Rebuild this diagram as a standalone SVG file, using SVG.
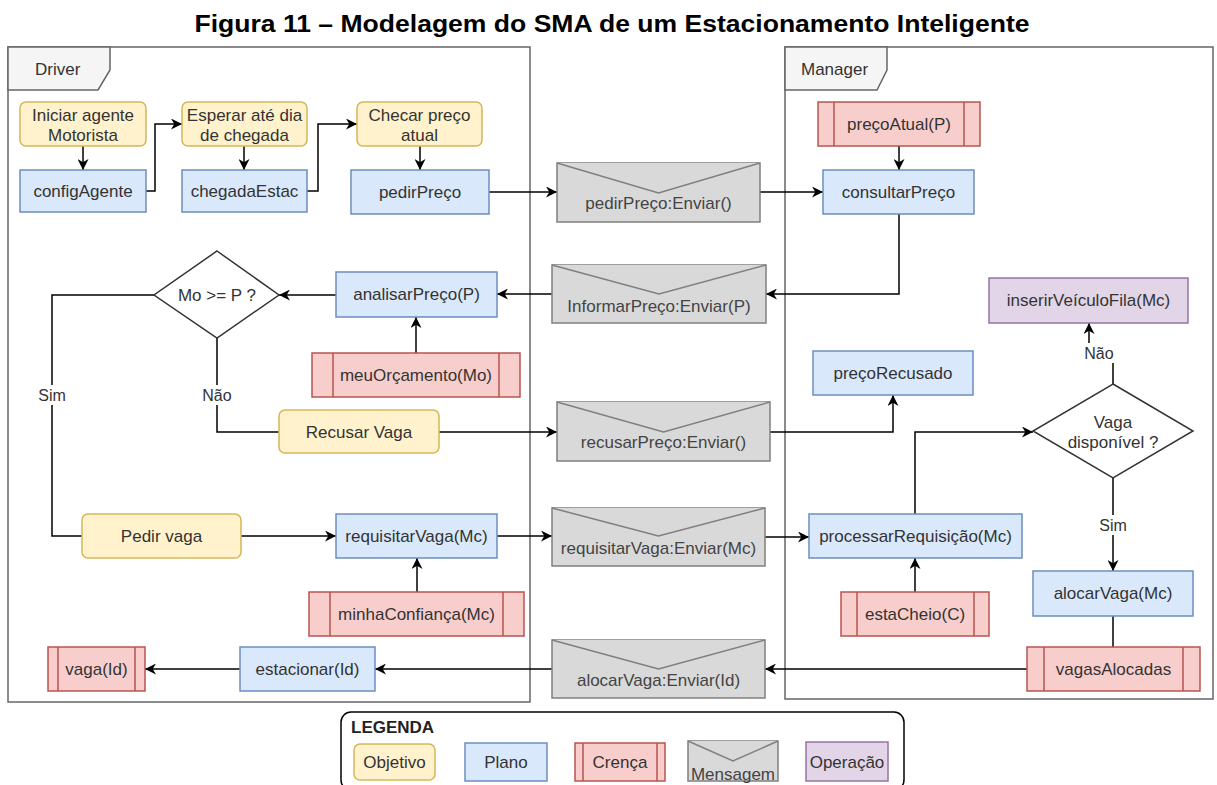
<svg xmlns="http://www.w3.org/2000/svg" width="1217" height="785" viewBox="0 0 1217 785">
  <style>
    text { font-family: "Liberation Sans", Arial, Helvetica, sans-serif; font-size: 17px; fill: #333; text-anchor: middle; }
    .title { font-size: 23px; font-weight: bold; fill: #000; }
    .frame { fill: none; stroke: #666; stroke-width: 1.5; }
    .tab { fill: #f5f5f5; stroke: #666; stroke-width: 1.5; }
    .tabtxt { text-anchor: start; fill: #333; }
    .goal { fill: #fff2cc; stroke: #d6b656; stroke-width: 1.5; }
    .plan { fill: #dae8fc; stroke: #6c8ebf; stroke-width: 1.5; }
    .belief { fill: #f8cecc; stroke: #b85450; stroke-width: 1.5; }
    .msg { fill: #d9d9d9; stroke: #7f7f7f; stroke-width: 1.5; }
    .msgtxt { fill: #444; }
    .op { fill: #e1d5e7; stroke: #9673a6; stroke-width: 1.5; }
    .dec { fill: #fff; stroke: #333; stroke-width: 1.5; }
    .edge { fill: none; stroke: #000; stroke-width: 1.5; }
    .lbl { font-size: 16px; }
    .lblbg { fill: #fff; }
    .legend { fill: #fff; stroke: #000; stroke-width: 1.5; }
  </style>
  <defs>
    <marker id="arrow" viewBox="0 0 10 10" markerWidth="11" markerHeight="11" refX="10" refY="5" orient="auto" markerUnits="userSpaceOnUse">
      <path d="M0,0 L10,5 L0,10 L3,5 Z" fill="#000"/>
    </marker>
  </defs>

  <text class="title" x="612" y="32" textLength="835" lengthAdjust="spacingAndGlyphs">Figura 11 – Modelagem do SMA de um Estacionamento Inteligente</text>

  <!-- agent frames -->
  <g id="driver-frame">
    <rect class="frame" x="8" y="47" width="522" height="655"/>
    <path class="tab" d="M8,47 H110 V70 L98,90 H8 Z"/>
    <text class="tabtxt" x="35" y="75">Driver</text>
  </g>
  <g id="manager-frame">
    <rect class="frame" x="785" y="47" width="428" height="652"/>
    <path class="tab" d="M785,47 H887 V70 L877,90 H785 Z"/>
    <text class="tabtxt" x="801" y="75">Manager</text>
  </g>

  <!-- connectors -->
  <g id="connectors">
    <path class="edge" d="M83,146 V170" marker-end="url(#arrow)"/>
    <path class="edge" d="M146,191 H155 V124 H182" marker-end="url(#arrow)"/>
    <path class="edge" d="M244,146 V170" marker-end="url(#arrow)"/>
    <path class="edge" d="M307,191 H318 V124 H357" marker-end="url(#arrow)"/>
    <path class="edge" d="M420,146 V170" marker-end="url(#arrow)"/>
    <path class="edge" d="M489,192 H557" marker-end="url(#arrow)"/>
    <path class="edge" d="M760,192 H823" marker-end="url(#arrow)"/>
    <path class="edge" d="M899,146 V170" marker-end="url(#arrow)"/>
    <path class="edge" d="M899,214 V294 H766" marker-end="url(#arrow)"/>
    <path class="edge" d="M552,294 H497" marker-end="url(#arrow)"/>
    <path class="edge" d="M416,353 V317" marker-end="url(#arrow)"/>
    <path class="edge" d="M336,295 H279" marker-end="url(#arrow)"/>
    <path class="edge" d="M154,295 H52 V536 H82"/>
    <path class="edge" d="M217,338 V432 H279"/>
    <path class="edge" d="M439,432 H557" marker-end="url(#arrow)"/>
    <path class="edge" d="M770,432 H893 V395" marker-end="url(#arrow)"/>
    <path class="edge" d="M241,536 H336" marker-end="url(#arrow)"/>
    <path class="edge" d="M417,592 V558" marker-end="url(#arrow)"/>
    <path class="edge" d="M497,536 H552" marker-end="url(#arrow)"/>
    <path class="edge" d="M765,537 H809" marker-end="url(#arrow)"/>
    <path class="edge" d="M915,592 V558" marker-end="url(#arrow)"/>
    <path class="edge" d="M915,514 V432 H1033" marker-end="url(#arrow)"/>
    <path class="edge" d="M1113,384 V352 H1089 V323" marker-end="url(#arrow)"/>
    <path class="edge" d="M1113,478 V571" marker-end="url(#arrow)"/>
    <path class="edge" d="M1113,616 V647"/>
    <path class="edge" d="M1027,669 H765" marker-end="url(#arrow)"/>
    <path class="edge" d="M552,669 H375" marker-end="url(#arrow)"/>
    <path class="edge" d="M240,669 H145" marker-end="url(#arrow)"/>
    <!-- branch labels -->
    <rect class="lblbg" x="36" y="385" width="32" height="20"/>
    <text class="lbl" x="52" y="401">Sim</text>
    <rect class="lblbg" x="201" y="385" width="32" height="20"/>
    <text class="lbl" x="217" y="401">Não</text>
    <rect class="lblbg" x="1083" y="343" width="32" height="20"/>
    <text class="lbl" x="1099" y="359">Não</text>
    <rect class="lblbg" x="1097" y="515" width="32" height="20"/>
    <text class="lbl" x="1113" y="531">Sim</text>
  </g>

  <!-- Driver nodes -->
  <g id="iniciar-agente">
    <rect class="goal" x="20" y="102" width="126" height="44" rx="6"/>
    <text x="83" y="121">Iniciar agente</text>
    <text x="83" y="141">Motorista</text>
  </g>
  <g id="config-agente">
    <rect class="plan" x="20" y="170" width="126" height="42"/>
    <text x="83" y="197">configAgente</text>
  </g>
  <g id="esperar-dia">
    <rect class="goal" x="182" y="102" width="125" height="44" rx="6"/>
    <text x="244.5" y="121">Esperar até dia</text>
    <text x="244.5" y="141">de chegada</text>
  </g>
  <g id="chegada-estac">
    <rect class="plan" x="182" y="170" width="125" height="42"/>
    <text x="244.5" y="197">chegadaEstac</text>
  </g>
  <g id="checar-preco">
    <rect class="goal" x="357" y="102" width="125" height="44" rx="6"/>
    <text x="419.5" y="121">Checar preço</text>
    <text x="419.5" y="141">atual</text>
  </g>
  <g id="pedir-preco">
    <rect class="plan" x="351" y="170" width="138" height="44"/>
    <text x="420" y="198">pedirPreço</text>
  </g>
  <g id="analisar-preco">
    <rect class="plan" x="336" y="272" width="161" height="45"/>
    <text x="416.5" y="300">analisarPreço(P)</text>
  </g>
  <g id="decisao-orcamento">
    <path class="dec" d="M217,251 L279,295 L217,338 L154,295 Z"/>
    <text x="217" y="301">Mo &gt;= P ?</text>
  </g>
  <g id="meu-orcamento">
    <rect class="belief" x="312" y="353" width="208" height="44"/>
    <path class="belief" d="M333,353 V397 M499,353 V397"/>
    <text x="416" y="381">meuOrçamento(Mo)</text>
  </g>
  <g id="recusar-vaga">
    <rect class="goal" x="279" y="410" width="160" height="43" rx="6"/>
    <text x="359" y="438">Recusar Vaga</text>
  </g>
  <g id="pedir-vaga">
    <rect class="goal" x="82" y="514" width="159" height="44" rx="6"/>
    <text x="161.5" y="542">Pedir vaga</text>
  </g>
  <g id="requisitar-vaga">
    <rect class="plan" x="336" y="514" width="161" height="44"/>
    <text x="416.5" y="542">requisitarVaga(Mc)</text>
  </g>
  <g id="minha-confianca">
    <rect class="belief" x="309" y="592" width="215" height="44"/>
    <path class="belief" d="M330,592 V636 M503,592 V636"/>
    <text x="416.5" y="620">minhaConfiança(Mc)</text>
  </g>
  <g id="estacionar">
    <rect class="plan" x="240" y="647" width="135" height="44"/>
    <text x="307.5" y="675">estacionar(Id)</text>
  </g>
  <g id="vaga-id">
    <rect class="belief" x="48" y="647" width="97" height="44"/>
    <path class="belief" d="M58,647 V691 M135,647 V691"/>
    <text x="96.5" y="675">vaga(Id)</text>
  </g>

  <!-- messages -->
  <g id="msg-pedir-preco">
    <rect class="msg" x="557" y="163" width="203" height="59"/>
    <path class="msg" d="M557,163 L658.5,193 L760,163" fill="none"/>
    <text class="msgtxt" x="658.5" y="209">pedirPreço:Enviar()</text>
  </g>
  <g id="msg-informar-preco">
    <rect class="msg" x="552" y="265" width="214" height="58"/>
    <path class="msg" d="M552,265 L659,294 L766,265" fill="none"/>
    <text class="msgtxt" x="659" y="312">InformarPreço:Enviar(P)</text>
  </g>
  <g id="msg-recusar-preco">
    <rect class="msg" x="557" y="402" width="213" height="59"/>
    <path class="msg" d="M557,402 L663.5,432 L770,402" fill="none"/>
    <text class="msgtxt" x="663.5" y="448">recusarPreço:Enviar()</text>
  </g>
  <g id="msg-requisitar-vaga">
    <rect class="msg" x="552" y="508" width="213" height="58"/>
    <path class="msg" d="M552,508 L658.5,536 L765,508" fill="none"/>
    <text class="msgtxt" x="658.5" y="554">requisitarVaga:Enviar(Mc)</text>
  </g>
  <g id="msg-alocar-vaga">
    <rect class="msg" x="552" y="640" width="213" height="58"/>
    <path class="msg" d="M552,640 L658.5,669 L765,640" fill="none"/>
    <text class="msgtxt" x="658.5" y="686">alocarVaga:Enviar(Id)</text>
  </g>

  <!-- Manager nodes -->
  <g id="preco-atual">
    <rect class="belief" x="818" y="102" width="162" height="44"/>
    <path class="belief" d="M834,102 V146 M964,102 V146"/>
    <text x="899" y="130">preçoAtual(P)</text>
  </g>
  <g id="consultar-preco">
    <rect class="plan" x="823" y="170" width="151" height="44"/>
    <text x="898.5" y="198">consultarPreço</text>
  </g>
  <g id="inserir-veiculo-fila">
    <rect class="op" x="989" y="278" width="199" height="45"/>
    <text x="1088.5" y="306">inserirVeículoFila(Mc)</text>
  </g>
  <g id="preco-recusado">
    <rect class="plan" x="813" y="351" width="160" height="44"/>
    <text x="893" y="379">preçoRecusado</text>
  </g>
  <g id="vaga-disponivel">
    <path class="dec" d="M1113,384 L1193,431 L1113,478 L1033,431 Z"/>
    <text x="1113" y="428">Vaga</text>
    <text x="1113" y="448">disponível ?</text>
  </g>
  <g id="processar-requisicao">
    <rect class="plan" x="809" y="514" width="213" height="44"/>
    <text x="915.5" y="542">processarRequisição(Mc)</text>
  </g>
  <g id="esta-cheio">
    <rect class="belief" x="841" y="592" width="148" height="44"/>
    <path class="belief" d="M857,592 V636 M974,592 V636"/>
    <text x="915" y="620">estaCheio(C)</text>
  </g>
  <g id="alocar-vaga">
    <rect class="plan" x="1033" y="571" width="160" height="45"/>
    <text x="1113" y="599">alocarVaga(Mc)</text>
  </g>
  <g id="vagas-alocadas">
    <rect class="belief" x="1027" y="647" width="173" height="44"/>
    <path class="belief" d="M1044,647 V691 M1183,647 V691"/>
    <text x="1113.5" y="675">vagasAlocadas</text>
  </g>

  <!-- legend -->
  <g id="legenda">
    <rect class="legend" x="341" y="712" width="563" height="78" rx="10"/>
    <text x="351" y="733" style="text-anchor:start;font-weight:bold;font-size:17px;fill:#222">LEGENDA</text>
    <rect class="goal" x="354" y="744" width="81" height="36" rx="6"/>
    <text x="394.5" y="768">Objetivo</text>
    <rect class="plan" x="465" y="743" width="82" height="38"/>
    <text x="506" y="768">Plano</text>
    <rect class="belief" x="575" y="743" width="90" height="38"/>
    <path class="belief" d="M583,743 V781 M657,743 V781"/>
    <text x="620" y="768">Crença</text>
    <rect class="msg" x="688" y="741" width="90" height="40"/>
    <path class="msg" d="M688,741 L733,761 L778,741" fill="none"/>
    <text class="msgtxt" x="733" y="780">Mensagem</text>
    <rect class="op" x="806" y="742" width="82" height="39"/>
    <text x="847" y="768">Operação</text>
  </g>
</svg>
